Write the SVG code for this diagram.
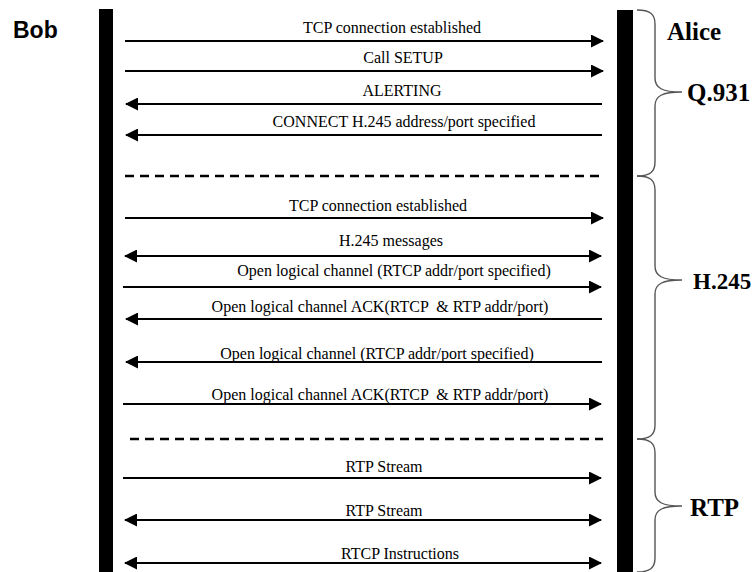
<svg xmlns="http://www.w3.org/2000/svg" width="755" height="572" viewBox="0 0 755 572">
<style>
.msg{stroke:#000;stroke-width:2;fill:none}
.dash{stroke:#000;stroke-width:2.5;stroke-dasharray:9 6;fill:none}
.life{fill:#000}
.brace{stroke:#555;stroke-width:1.4;fill:none}
.lbl{font-family:"Liberation Serif","Times New Roman",serif;font-size:16px;fill:#000;text-anchor:middle;white-space:pre}
.side{font-family:"Liberation Serif","Times New Roman",serif;font-size:25px;font-weight:bold;fill:#000}
.bob{font-family:"Liberation Sans",Arial,sans-serif;font-size:23px;font-weight:bold;fill:#000}
</style>
<defs>
<marker id="ah" markerUnits="userSpaceOnUse" markerWidth="13" markerHeight="13" refX="12" refY="6.5" orient="auto-start-reverse" viewBox="0 0 13 13">
<path d="M0,0 L13,6.5 L0,13 z" fill="#000"/>
</marker>
</defs>
<rect width="755" height="572" fill="#fff"/>
<g id="bob">
<rect class="life" x="99" y="9" width="14" height="563"/>
<text class="bob" x="13" y="38">Bob</text>
</g>
<g id="alice">
<rect class="life" x="617" y="10" width="16" height="562"/>
<text class="side" x="667" y="40">Alice</text>
</g>
<g id="q931">
<path class="brace" d="M637,10 C650,10 655,14 655,24 L655,78 C655,88 662,92 682,92 C662,92 655,96 655,106 L655,162 C655,172 650,176 637,176"/>
<text class="side" x="687" y="101">Q.931</text>
</g>
<g id="h245">
<path class="brace" d="M637,176 C650,176 655,180 655,190 L655,266 C655,276 662,280 682,280 C662,280 655,284 655,294 L655,425 C655,435 650,439 637,439"/>
<text class="side" x="693" y="289" style="font-size:23px">H.245</text>
</g>
<g id="rtp">
<path class="brace" d="M637,439 C650,439 655,443 655,453 L655,492 C655,502 662,506 682,506 C662,506 655,510 655,520 L655,558 C655,568 650,572 637,572"/>
<text class="side" x="690" y="516">RTP</text>
</g>
<g id="connectors">
<line class="msg" x1="125" y1="41" x2="603" y2="41" marker-end="url(#ah)"/>
<line class="msg" x1="125" y1="71" x2="603" y2="71" marker-end="url(#ah)"/>
<line class="msg" x1="602" y1="104" x2="126" y2="104" marker-end="url(#ah)"/>
<line class="msg" x1="602" y1="135" x2="126" y2="135" marker-end="url(#ah)"/>
<line class="dash" x1="125" y1="176" x2="602" y2="176"/>
<line class="msg" x1="125" y1="218" x2="603" y2="218" marker-end="url(#ah)"/>
<line class="msg" x1="125" y1="256" x2="601" y2="256" marker-start="url(#ah)" marker-end="url(#ah)"/>
<line class="msg" x1="123" y1="287" x2="601" y2="287" marker-end="url(#ah)"/>
<line class="msg" x1="602" y1="319" x2="126" y2="319" marker-end="url(#ah)"/>
<line class="msg" x1="602" y1="362" x2="126" y2="362" marker-end="url(#ah)"/>
<line class="msg" x1="123" y1="404" x2="601" y2="404" marker-end="url(#ah)"/>
<line class="dash" x1="130" y1="439" x2="603" y2="439"/>
<line class="msg" x1="123" y1="478" x2="601" y2="478" marker-end="url(#ah)"/>
<line class="msg" x1="125" y1="520" x2="601" y2="520" marker-start="url(#ah)" marker-end="url(#ah)"/>
<line class="msg" x1="125" y1="563" x2="601" y2="563" marker-start="url(#ah)" marker-end="url(#ah)"/>
</g>
<g id="labels">
<text class="lbl" x="392" y="33">TCP connection established</text>
<text class="lbl" x="403" y="63">Call SETUP</text>
<text class="lbl" x="402" y="96">ALERTING</text>
<text class="lbl" x="404" y="127">CONNECT H.245 address/port specified</text>
<text class="lbl" x="378" y="211">TCP connection established</text>
<text class="lbl" x="391" y="246">H.245 messages</text>
<text class="lbl" x="394" y="276">Open logical channel (RTCP addr/port specified)</text>
<text class="lbl" x="380" y="312">Open logical channel ACK(RTCP  &amp; RTP addr/port)</text>
<text class="lbl" x="377" y="359">Open logical channel (RTCP addr/port specified)</text>
<text class="lbl" x="380" y="400">Open logical channel ACK(RTCP  &amp; RTP addr/port)</text>
<text class="lbl" x="384" y="472">RTP Stream</text>
<text class="lbl" x="384" y="516">RTP Stream</text>
<text class="lbl" x="400" y="559">RTCP Instructions</text>
</g>
</svg>
